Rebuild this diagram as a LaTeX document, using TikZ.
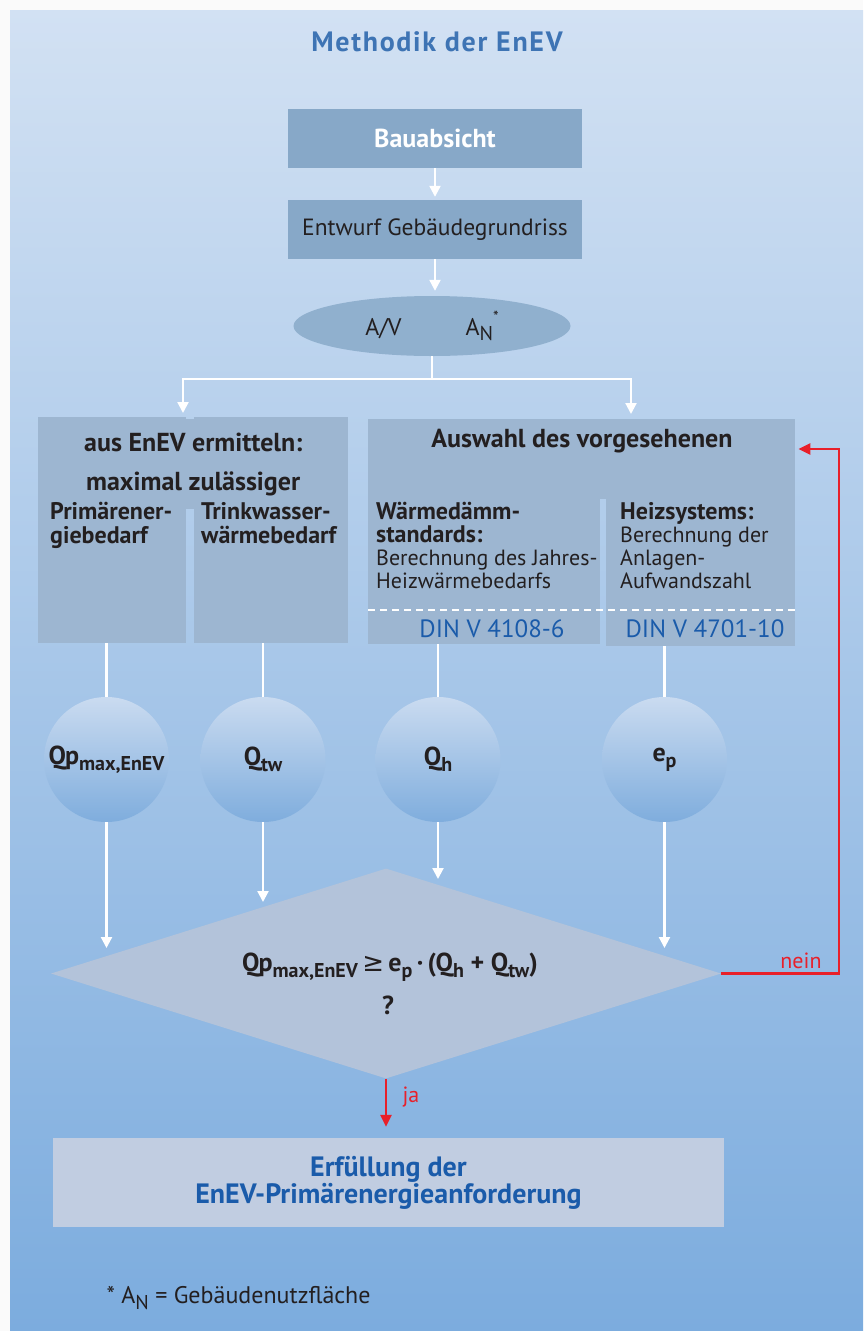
\documentclass[tikz,border=0pt]{standalone}
\usepackage{fontspec}
\setmainfont{PT Sans}
\newfontfamily\symfont{DejaVu Sans}
\usetikzlibrary{shapes.geometric,arrows.meta,positioning,calc}

\definecolor{bgtop}{HTML}{D2E1F3}
\definecolor{bgbottom}{HTML}{7CACDE}
\definecolor{boxblue}{HTML}{87A8C8}
\definecolor{ovalblue}{HTML}{90B0CE}
\definecolor{panelblue}{HTML}{9DB6D1}
\definecolor{rautegrau}{HTML}{B3C3DA}
\definecolor{ergebnis}{HTML}{C1CDE1}
\definecolor{titelblau}{HTML}{3E74B4}
\definecolor{textblau}{HTML}{1A5BAA}
\definecolor{neinrot}{HTML}{E8202A}
\definecolor{dunkel}{HTML}{231F20}
\definecolor{kreisoben}{HTML}{CADBF0}
\definecolor{kreisunten}{HTML}{7FADDD}

\newcommand{\idx}[1]{\raisebox{-0.45ex}{\fontsize{20}{20}\selectfont #1}}
\newcommand{\spaltefont}{\fontsize{24}{24}\selectfont\bfseries}

\begin{document}
\begin{tikzpicture}[x=1pt, y=-1pt,
    font=\fontsize{22}{23}\selectfont, text=dunkel,
    titel/.style={font=\fontsize{28}{28}\selectfont\bfseries\addfontfeatures{LetterSpace=6}, text=titelblau},
    kopf/.style={font=\fontsize{26}{26}\selectfont\bfseries},
    spalte/.style={font=\spaltefont},
    box/.style={rectangle, fill=boxblue, minimum width=294pt, minimum height=59pt, inner sep=0pt},
    oval/.style={ellipse, fill=ovalblue, minimum width=277pt, minimum height=60pt, inner sep=0pt, font=\fontsize{24}{24}\selectfont},
    panel/.style={rectangle, fill=panelblue, inner sep=0pt, anchor=north west},
    coltext/.style={align=left, anchor=north west, inner sep=0pt},
    din/.style={text=textblau, font=\fontsize{25}{25}\selectfont},
    kreis/.style={circle, minimum size=125pt, inner sep=0pt, top color=kreisoben, bottom color=kreisunten, kopf},
    raute/.style={diamond, fill=rautegrau, minimum width=670pt, minimum height=210pt, inner sep=0pt},
    ergebnisbox/.style={rectangle, fill=ergebnis, minimum width=671pt, minimum height=89pt, align=center, text=textblau, font=\fontsize{28}{25}\selectfont\bfseries},
    linie/.style={draw=white, line width=2.2pt},
    pfeil/.style={draw=white, line width=2.2pt, -{Triangle[length=11pt,width=11pt]}},
    rotpfeil/.style={draw=neinrot, line width=2.8pt, -{Triangle[length=12pt,width=11pt]}},
    rottext/.style={text=neinrot}
]
    \useasboundingbox (0,0) rectangle (863,1331);
    \fill[gray!4] (0,0) rectangle (863,1331);
    \shade[top color=bgtop, bottom color=bgbottom] (10,10) rectangle (863,1331);

    \node[titel] (titel) at (437,42) {Methodik der EnEV};

    \node[box, kopf, text=white] (bau) at (435,138.5) {Bauabsicht};
    \node[box, font=\fontsize{23.5}{24}\selectfont] (entwurf) at (435,229.5) {Entwurf Gebäudegrundriss};
    \node[oval] (av) at (432,326) {A/V\hspace{64pt}A\idx{N}\raisebox{1.1ex}{\fontsize{16}{16}\selectfont *}};

    % linker Block
    \node[panel, minimum width=148pt, minimum height=226pt] (prim) at (38,417) {};
    \node[panel, minimum width=154pt, minimum height=226pt] (trink) at (194,417) {};
    \node[panel, minimum width=310pt, minimum height=90pt, align=center, kopf] (ermitteln) at (38,419) {aus EnEV ermitteln:\\[13pt]maximal zulässiger};
    \node[coltext, spalte] (primtext) at (50,502) {Primärener-\\giebedarf};
    \node[coltext, spalte] (trinktext) at (201,502) {Trinkwasser-\\wärmebedarf};

    % rechter Block
    \node[panel, minimum width=232pt, minimum height=225pt] (waerme) at (368,419) {};
    \node[panel, minimum width=189pt, minimum height=227pt] (heiz) at (606,419) {};
    \node[panel, minimum width=427pt, minimum height=80pt] (auswahl) at (368,419) {};
    \node[kopf] (auswahltext) at (582,441) {Auswahl des vorgesehenen};
    \node[coltext] (waermetext) at (376,502) {{\spaltefont Wärmedämm-}\\{\spaltefont standards:}\\Berechnung des Jahres-\\Heizwärmebedarfs};
    \node[coltext] (heiztext) at (620,502) {{\spaltefont Heizsystems:}\\Berechnung der\\Anlagen-\\Aufwandszahl};
    \draw[white, line width=1.5pt, dash pattern=on 7pt off 5pt] (waerme.west |- 0,610) -- (heiz.east |- 0,610);
    \node[din] (din1) at (492,628.5) {DIN V 4108-6};
    \node[din] (din2) at (705,628.5) {DIN V 4701-10};

    % Kenngroessen
    \node[kreis] (qp) at (106.5,759.5) {Q\kern-1pt p\idx{max,EnEV}};
    \node[kreis] (qtw) at (263,759.5) {Q\idx{tw}};
    \node[kreis] (qh) at (438,759.5) {Q\idx{h}};
    \node[kreis] (ep) at (664.5,759.5) {e\idx{p}};

    \node[raute] (test) at (386,973.5) {};
    \node[kopf] (formel) at (390,967) {Q\kern-1pt p\idx{max,EnEV}\,{\mdseries\symfont ≥}\,e\idx{p}\,·\,(Q\idx{h} + Q\idx{tw})};
    \node[kopf] (frage) at (388,1005) {?};

    \node[ergebnisbox] (erfuell) at (388.5,1182.5) {Erfüllung der\\EnEV-Primärenergieanforderung};
    \node[anchor=west, font=\fontsize{24}{24}\selectfont] (fussnote) at (103,1298) {* A\idx{N} = Gebäudenutzfläche};

    % Verbindungen
    \coordinate (split) at (432,379);
    \coordinate (linksab) at (183,417);
    \coordinate (rechtsab) at (631,419);
    \draw[pfeil, shorten >=3pt] (bau) -- (entwurf);
    \draw[pfeil, shorten >=5pt] (entwurf) -- (entwurf.south |- av.north);
    \draw[pfeil, shorten >=4pt] (av.south) -- (split) -| (linksab);
    \draw[pfeil, shorten >=5pt] (av.south) -- (split) -| (rechtsab);

    \draw[linie] (prim.south -| qp.north) -- (qp.north);
    \draw[linie] (trink.south -| qtw.north) -- (qtw.north);
    \draw[linie] (waerme.south -| qh.north) -- (qh.north);
    \draw[linie] (heiz.south -| ep.north) -- (ep.north);

    \draw[pfeil] (qp.south) -- (qp.south |- 0,948);
    \draw[pfeil] (qtw.south) -- (qtw.south |- 0,902);
    \draw[pfeil] (qh.south) -- (qh.south |- 0,879);
    \draw[pfeil] (ep.south) -- (ep.south |- 0,948);

    \coordinate (zurueck) at (839,449);
    \draw[rotpfeil, shorten >=3pt] (test.east) -| (zurueck) -- (auswahl.east |- zurueck);
    \node[rottext] (nein) at (801,961) {nein};
    \draw[rotpfeil, shorten >=11pt] (test.south) -- (test.south |- erfuell.north);
    \node[rottext] (ja) at (411,1097) {ja};
\end{tikzpicture}
\end{document}
